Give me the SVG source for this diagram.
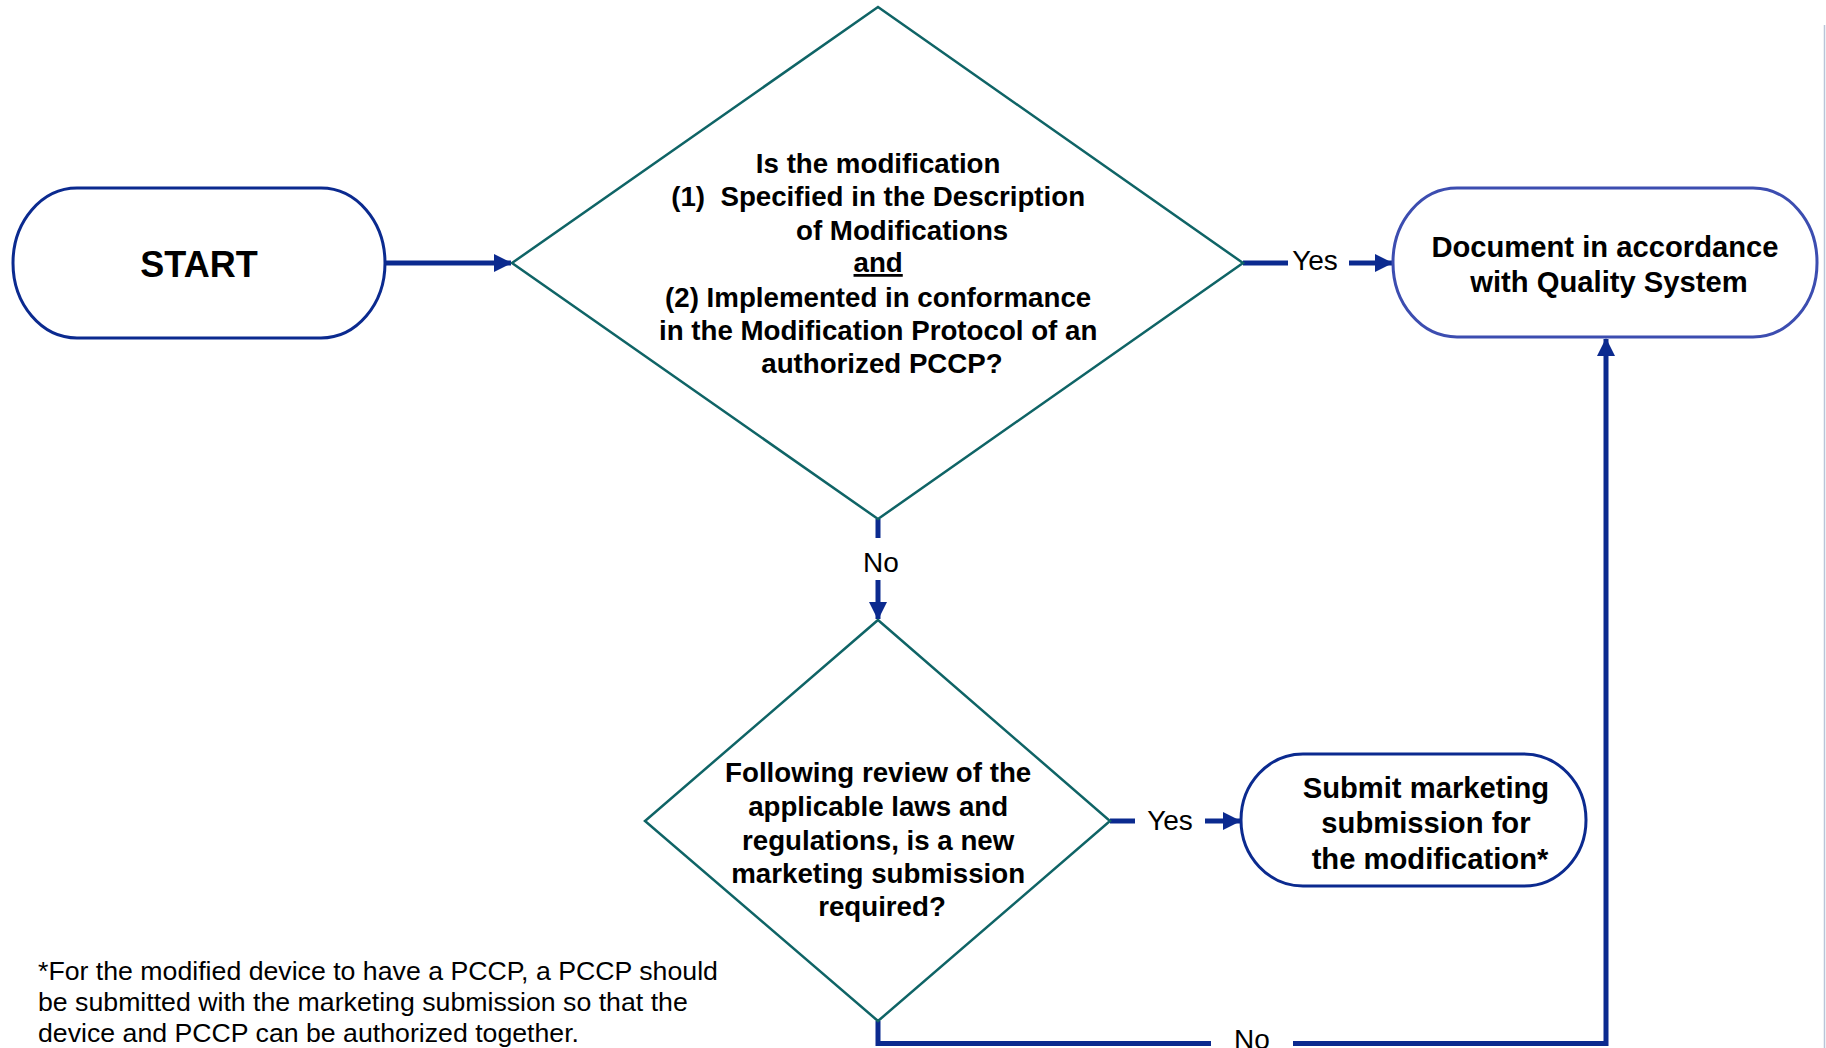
<svg xmlns="http://www.w3.org/2000/svg" width="1826" height="1048" viewBox="0 0 1826 1048">
<defs>
<style>
.bold{font-family:"Liberation Sans",Arial,sans-serif;font-weight:bold;fill:#000;text-anchor:middle}
.lbl{font-family:"Liberation Sans",Arial,sans-serif;font-size:28px;fill:#000;text-anchor:middle}
.note{font-family:"Liberation Sans",Arial,sans-serif;font-size:26.7px;fill:#000}
.dia{fill:#fff;stroke:#0f6466;stroke-width:2.5}
.pill{fill:#fff;stroke:#0b2a8f;stroke-width:3}
.pill2{fill:#fff;stroke:#3c4db0;stroke-width:3}
.con{fill:none;stroke:#0b2a8f;stroke-width:5}
</style>
<marker id="ah" markerUnits="userSpaceOnUse" markerWidth="18" markerHeight="18" viewBox="0 0 18 18" refX="17" refY="9" orient="auto">
<path d="M0,0 L18,9 L0,18 Z" fill="#0b2a8f"/>
</marker>
</defs>
<rect width="1826" height="1048" fill="#fff"/>
<line x1="1824.5" y1="25" x2="1824.5" y2="1048" stroke="#b9c5d8" stroke-width="1.5"/>

<g id="connectors">
<line class="con" x1="385" y1="263" x2="511" y2="263" marker-end="url(#ah)"/>
<line class="con" x1="1243" y1="263" x2="1288" y2="263"/>
<line class="con" x1="1349" y1="263" x2="1392" y2="263" marker-end="url(#ah)"/>
<line class="con" x1="878" y1="519" x2="878" y2="538"/>
<line class="con" x1="878" y1="580" x2="878" y2="619" marker-end="url(#ah)"/>
<line class="con" x1="1110" y1="821" x2="1135" y2="821"/>
<line class="con" x1="1205" y1="821" x2="1240" y2="821" marker-end="url(#ah)"/>
<path class="con" d="M878,1021 V1043.5 H1211"/>
<path class="con" d="M1293,1043.5 H1606 V339" marker-end="url(#ah)"/>
<text class="lbl" x="1315" y="270">Yes</text>
<text class="lbl" x="881" y="572">No</text>
<text class="lbl" x="1170" y="830">Yes</text>
<text class="lbl" x="1252" y="1049">No</text>
</g>

<g id="start">
<rect class="pill" x="13" y="188" width="372" height="150" rx="64" ry="75"/>
<text class="bold" x="199" y="277" font-size="36">START</text>
</g>

<g id="decision1">
<polygon class="dia" points="878,7 1243,263 878,519 512,263"/>
<text class="bold" font-size="27.7">
<tspan x="882" y="173">Is the modification</tspan>
<tspan x="882" y="206" xml:space="preserve">(1)  Specified in the Description</tspan>
<tspan x="906" y="240">of Modifications</tspan>
<tspan x="882" y="272" text-decoration="underline">and</tspan>
<tspan x="882" y="307">(2) Implemented in conformance</tspan>
<tspan x="882" y="340">in the Modification Protocol of an</tspan>
<tspan x="882" y="373">authorized PCCP?</tspan>
</text>
</g>

<g id="document">
<rect class="pill2" x="1393" y="188" width="424" height="149" rx="64" ry="74"/>
<text class="bold" font-size="29.2">
<tspan x="1609" y="257">Document in accordance</tspan>
<tspan x="1609" y="292">with Quality System</tspan>
</text>
</g>

<g id="decision2">
<polygon class="dia" points="878,620 1110,821 878,1021 645,821"/>
<text class="bold" font-size="27.7">
<tspan x="882" y="782">Following review of the</tspan>
<tspan x="882" y="816">applicable laws and</tspan>
<tspan x="882" y="850">regulations, is a new</tspan>
<tspan x="882" y="883">marketing submission</tspan>
<tspan x="882" y="916">required?</tspan>
</text>
</g>

<g id="submit">
<rect class="pill" x="1241" y="754" width="345" height="132" rx="62" ry="66"/>
<text class="bold" font-size="29.2">
<tspan x="1430" y="798">Submit marketing</tspan>
<tspan x="1430" y="833">submission for</tspan>
<tspan x="1430" y="869">the modification*</tspan>
</text>
</g>

<g id="footnote">
<text class="note">
<tspan x="38" y="980">*For the modified device to have a PCCP, a PCCP should</tspan>
<tspan x="38" y="1011">be submitted with the marketing submission so that the</tspan>
<tspan x="38" y="1042">device and PCCP can be authorized together.</tspan>
</text>
</g>
</svg>
